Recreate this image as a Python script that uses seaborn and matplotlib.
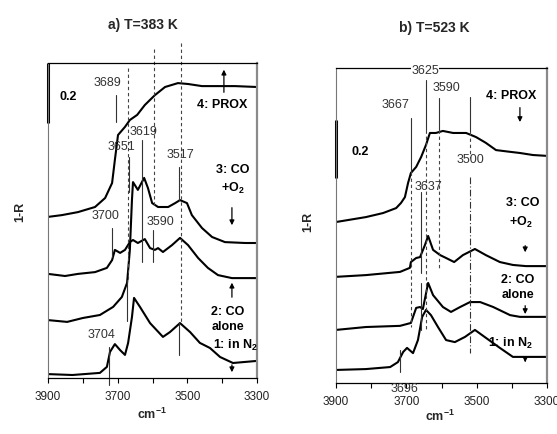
import numpy as np
import pandas as pd
import matplotlib
matplotlib.use("Agg")
import matplotlib.pyplot as plt
import seaborn as sns

sns.set_theme(style="white")
plt.rcParams["font.family"] = ["Liberation Sans", "DejaVu Sans"]
plt.rcParams["mathtext.fontset"] = "custom"
plt.rcParams["mathtext.rm"] = "Liberation Sans"
plt.rcParams["mathtext.bf"] = "Liberation Sans:bold"

# ---------------- data ----------------
# Panel a) T=383 K
a_prox_wn = [3900, 3860, 3814, 3765, 3736, 3716, 3708, 3699, 3679, 3665, 3644, 3622, 3593, 3564, 3527, 3498, 3458, 3412, 3363, 3300]
a_prox_y = [0.537, 0.543, 0.553, 0.570, 0.600, 0.650, 0.727, 0.810, 0.837, 0.860, 0.877, 0.910, 0.943, 0.970, 0.983, 0.980, 0.973, 0.973, 0.973, 0.970]

a_coo2_wn = [3900, 3845, 3800, 3751, 3713, 3688, 3673, 3665, 3659, 3656, 3642, 3624, 3613, 3601, 3584, 3555, 3535, 3521, 3501, 3487, 3458, 3429, 3392, 3334, 3300]
a_coo2_y = [0.193, 0.187, 0.200, 0.210, 0.237, 0.270, 0.317, 0.427, 0.593, 0.653, 0.627, 0.667, 0.633, 0.583, 0.570, 0.570, 0.583, 0.593, 0.583, 0.543, 0.500, 0.470, 0.453, 0.450, 0.450]

a_co_wn = [3900, 3851, 3814, 3765, 3731, 3716, 3708, 3693, 3679, 3665, 3656, 3642, 3622, 3607, 3593, 3584, 3570, 3544, 3521, 3498, 3469, 3441, 3412, 3372, 3300]
a_co_y = [0.347, 0.340, 0.347, 0.353, 0.367, 0.393, 0.427, 0.417, 0.427, 0.453, 0.460, 0.450, 0.463, 0.433, 0.427, 0.433, 0.420, 0.443, 0.467, 0.443, 0.400, 0.367, 0.343, 0.333, 0.333]

a_n2_wn = [3900, 3830, 3751, 3731, 3722, 3708, 3693, 3679, 3670, 3659, 3653, 3636, 3607, 3570, 3550, 3521, 3492, 3464, 3435, 3406, 3369, 3300]
a_n2_y = [0.013, 0.010, 0.017, 0.037, 0.087, 0.113, 0.093, 0.077, 0.117, 0.203, 0.267, 0.237, 0.183, 0.137, 0.153, 0.183, 0.153, 0.117, 0.100, 0.070, 0.050, 0.057]

# Panel b) T=523 K
b_prox_wn = [3900, 3815, 3766, 3729, 3715, 3704, 3695, 3687, 3672, 3658, 3644, 3633, 3616, 3596, 3567, 3530, 3502, 3474, 3445, 3405, 3377, 3340, 3300]
b_prox_y = [0.555, 0.572, 0.586, 0.603, 0.621, 0.641, 0.690, 0.724, 0.745, 0.779, 0.821, 0.862, 0.862, 0.869, 0.862, 0.862, 0.848, 0.828, 0.803, 0.797, 0.793, 0.786, 0.783]

b_coo2_wn = [3900, 3815, 3718, 3690, 3687, 3672, 3661, 3647, 3638, 3624, 3604, 3587, 3564, 3539, 3505, 3474, 3434, 3397, 3360, 3300]
b_coo2_y = [0.366, 0.372, 0.383, 0.397, 0.417, 0.431, 0.434, 0.476, 0.507, 0.459, 0.441, 0.431, 0.417, 0.441, 0.462, 0.441, 0.417, 0.407, 0.403, 0.403]

b_co_wn = [3900, 3815, 3718, 3687, 3672, 3661, 3653, 3638, 3624, 3596, 3573, 3547, 3519, 3490, 3453, 3405, 3377, 3300]
b_co_y = [0.183, 0.193, 0.197, 0.207, 0.259, 0.262, 0.255, 0.345, 0.303, 0.262, 0.245, 0.262, 0.279, 0.279, 0.262, 0.234, 0.228, 0.228]

b_n2_wn = [3900, 3815, 3746, 3724, 3709, 3698, 3681, 3667, 3655, 3644, 3630, 3610, 3587, 3562, 3533, 3505, 3473, 3434, 3397, 3348, 3300]
b_n2_y = [0.045, 0.048, 0.055, 0.072, 0.107, 0.121, 0.103, 0.148, 0.228, 0.252, 0.234, 0.193, 0.148, 0.141, 0.159, 0.183, 0.155, 0.121, 0.090, 0.090, 0.090]

curve_names = ["4: PROX", "3: CO+O2", "2: CO alone", "1: in N2"]
tick_values = [3900, 3800, 3700, 3600, 3500, 3400, 3300]
tick_labels = ["3900", "", "3700", "", "3500", "", "3300"]


def long_frame(series):
    frames = []
    for name, (wn, y) in zip(curve_names, series):
        frames.append(pd.DataFrame({"wn": wn, "y": y, "curve": name}))
    return pd.concat(frames, ignore_index=True)


df_a = long_frame([(a_prox_wn, a_prox_y), (a_coo2_wn, a_coo2_y), (a_co_wn, a_co_y), (a_n2_wn, a_n2_y)])
df_b = long_frame([(b_prox_wn, b_prox_y), (b_coo2_wn, b_coo2_y), (b_co_wn, b_co_y), (b_n2_wn, b_n2_y)])

W, H = 557, 434
fig = plt.figure(figsize=(W / 100, H / 100), dpi=100)
ax_a = fig.add_axes([48 / W, 1 - 378 / H, 209 / W, 315 / H])
ax_b = fig.add_axes([336 / W, 1 - 383 / H, 211 / W, 315 / H])

for ax, df, ytop in [(ax_a, df_a, 1.05), (ax_b, df_b, 1.086)]:
    sns.lineplot(data=df, x="wn", y="y", units="curve", estimator=None, sort=False,
                 color="black", lw=1.5, ax=ax, legend=False)
    ax.set_xlim(3900, 3300)
    ax.set_ylim(0, ytop)
    ax.set_xticks(tick_values)
    ax.set_xticklabels(tick_labels)
    ax.set_yticks([])
    ax.set_xlabel("")
    ax.set_ylabel("")
    ax.tick_params(axis="x", direction="out", length=3.5, width=0.8, color="black",
                   labelsize=8.5, pad=6, bottom=True, labelcolor="#222222")
    for s in ["top", "bottom"]:
        ax.spines[s].set_color("black")
        ax.spines[s].set_linewidth(0.9)
    ax.spines["left"].set_color("#777777")
    ax.spines["left"].set_linewidth(0.8)
    ax.spines["right"].set_color("#8a8a8a")
    ax.spines["right"].set_linewidth(1.6)
    for s in ax.spines.values():
        s.set_visible(True)

BOLD = dict(fontsize=9, fontweight="bold", color="black")
NUM = dict(fontsize=9, color="#333333", ha="center", va="center")
thin = dict(color="#333333", lw=0.8, clip_on=False)
dash = dict(color="#444444", lw=0.8, ls=(0, (3, 2.5)), clip_on=False)
arrow = dict(arrowstyle="-|>", color="black", lw=0.9, mutation_scale=7)

# ---------- panel a annotations ----------
ax = ax_a
ax.plot([3900, 3900], [0.85, 1.05], color="black", lw=2.2, clip_on=False, solid_capstyle="butt")
ax.text(3843, 0.937, "0.2", ha="center", va="center", **BOLD)
for x, y0, y1 in [(3670, 1.033, 0.327), (3596, 1.097, 0.57), (3518, 1.117, 0.187)]:
    ax.plot([x, x], [y0, y1], **dash)
for x, y0, y1 in [(3705, 0.943, 0.853), (3667, 0.737, 0.62), (3630, 0.793, 0.387),
                  (3524, 0.703, 0.593), (3716, 0.50, 0.403), (3599, 0.493, 0.387),
                  (3725, 0.103, -0.023), (3673, 0.327, 0.19), (3524, 0.187, 0.077)]:
    ax.plot([x, x], [y0, y1], **thin)
for t, x, y in [("3689", 3728, 0.983), ("3651", 3690, 0.77), ("3619", 3627, 0.82),
                ("3517", 3521, 0.743), ("3700", 3736, 0.54), ("3590", 3578, 0.52),
                ("3704", 3745, 0.143)]:
    ax.text(x, y, t, **NUM)
ax.annotate("", xy=(3395, 1.037), xytext=(3395, 0.943), arrowprops=arrow, annotation_clip=False)
ax.text(3400, 0.91, "4: PROX", ha="center", va="center", **BOLD)
ax.text(3369, 0.693, "3: CO", ha="center", va="center", **BOLD)
ax.text(3369, 0.633, r"+O$_\mathbf{2}$", ha="center", va="center", **BOLD)
ax.annotate("", xy=(3372, 0.50), xytext=(3372, 0.577), arrowprops=arrow)
ax.annotate("", xy=(3372, 0.327), xytext=(3372, 0.26), arrowprops=arrow)
ax.text(3383, 0.22, "2: CO", ha="center", va="center", **BOLD)
ax.text(3383, 0.17, "alone", ha="center", va="center", **BOLD)
ax.text(3363, 0.11, r"1: in N$_\mathbf{2}$", ha="center", va="center", **BOLD)
ax.annotate("", xy=(3372, 0.01), xytext=(3372, 0.053), arrowprops=arrow)

# ---------- panel b annotations ----------
ax = ax_b
ax.plot([3900, 3900], [0.707, 0.907], color="black", lw=2.2, clip_on=False, solid_capstyle="butt")
ax.text(3832, 0.797, "0.2", ha="center", va="center", **BOLD)
# solid marker parts
for x, y0, y1 in [(3687, 0.914, 0.728), (3644, 1.045, 0.872), (3607, 0.983, 0.872),
                  (3519, 0.986, 0.866), (3658, 0.659, 0.379), (3658, 0.345, 0.183),
                  (3718, 0.114, 0.038)]:
    ax.plot([x, x], [y0, y1], **thin)
# dashed continuations
for x, y0, y1 in [(3687, 0.728, 0.193), (3644, 0.872, 0.183), (3607, 0.872, 0.397),
                  (3519, 0.866, 0.776)]:
    ax.plot([x, x], [y0, y1], **dash)
ax.plot([3519, 3519], [0.71, 0.103], color="#333333", lw=0.8, ls=(0, (6, 2, 1, 2)))
for t, x, y in [("3667", 3732, 0.959), ("3590", 3587, 1.017), ("3500", 3519, 0.769),
                ("3637", 3638, 0.676)]:
    ax.text(x, y, t, **NUM)
ax.text(3647, 1.076, "3625", bbox=dict(fc="white", ec="none", pad=0.2), zorder=5, clip_on=False, **NUM)
ax.text(3704, -0.022, "3696", clip_on=False, **NUM)
ax.text(3402, 0.990, "4: PROX", ha="center", va="center", **BOLD)
ax.annotate("", xy=(3377, 0.890), xytext=(3377, 0.959), arrowprops=arrow)
ax.text(3368, 0.621, "3: CO", ha="center", va="center", **BOLD)
ax.text(3374, 0.552, r"+O$_\mathbf{2}$", ha="center", va="center", **BOLD)
ax.annotate("", xy=(3362, 0.441), xytext=(3362, 0.483), arrowprops=arrow)
ax.text(3382, 0.355, "2: CO", ha="center", va="center", **BOLD)
ax.text(3382, 0.303, "alone", ha="center", va="center", **BOLD)
ax.annotate("", xy=(3362, 0.228), xytext=(3362, 0.276), arrowprops=arrow)
ax.text(3405, 0.138, r"1: in N$_\mathbf{2}$", ha="center", va="center", **BOLD)
ax.annotate("", xy=(3362, 0.062), xytext=(3362, 0.090), arrowprops=arrow)

# ---------- titles and axis labels ----------
fig.text(143 / W, 1 - 25 / H, "a) T=383 K", ha="center", va="center", fontsize=10, fontweight="bold")
fig.text(434 / W, 1 - 28 / H, "b) T=523 K", ha="center", va="center", fontsize=10, fontweight="bold")
fig.text(20 / W, 1 - 212 / H, "1-R", rotation=90, ha="center", va="center", fontsize=9, fontweight="bold")
fig.text(308 / W, 1 - 222 / H, "1-R", rotation=90, ha="center", va="center", fontsize=9, fontweight="bold")
fig.text(152 / W, 1 - 414 / H, r"cm$^{\mathbf{-1}}$", ha="center", va="center", fontsize=9, fontweight="bold")
fig.text(440 / W, 1 - 416 / H, r"cm$^{\mathbf{-1}}$", ha="center", va="center", fontsize=9, fontweight="bold")

fig.savefig("out.png", dpi=100)
